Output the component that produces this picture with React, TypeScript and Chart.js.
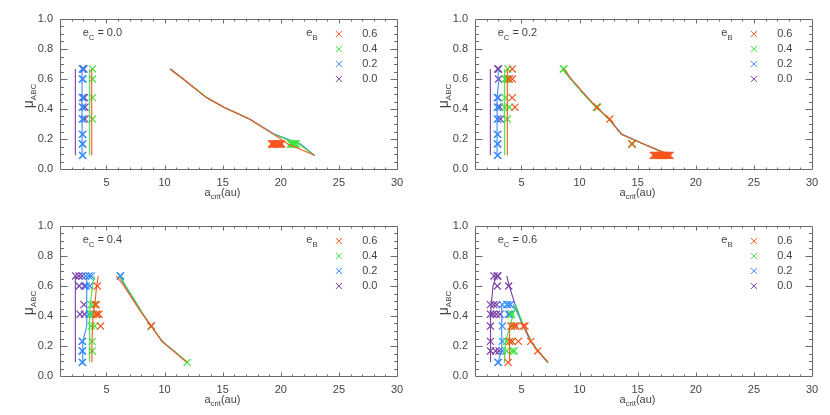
import React, { useEffect, useRef } from 'react';
import { Chart, registerables } from 'chart.js';

Chart.register(...registerables);

// ---- shared axis / label data ----
const MU = [0.091, 0.167, 0.231, 0.333, 0.412, 0.476, 0.6, 0.667];
const EC_LABELS = ['0.0', '0.2', '0.4', '0.6'];
const EB_LABELS = ['0.6', '0.4', '0.2', '0.0'];
const LEGEND_Y = [0.9, 0.8, 0.7, 0.6];
const LEGEND_X = 25;
const X_MIN = 1;
const X_MAX = 30;
const Y_MIN = 0;
const Y_MAX = 1;

// ---- e_C = 0.0 ----
const ec00LeftEb00 = [2.32, 2.32, 2.32, 2.32, 2.32, 2.32, 2.32, 2.32];
const ec00LeftEb02 = [2.9, 2.9, 2.9, 2.9, 2.9, 2.9, 2.9, 2.9];
const ec00LeftEb04 = [3.55, 3.55, 3.55, 3.55, 3.55, 3.55, 3.55, 3.55];
const ec00LeftEb06 = [3.73, 3.73, 3.73, 3.73, 3.73, 3.73, 3.73, 3.73];
const ec00RightEb00 = [22.9, 21.6, 19.4, 17.3, 15.1, 13.6, 11.6, 10.45];
const ec00RightEb02 = [22.9, 21.7, 19.5, 17.3, 15.1, 13.6, 11.6, 10.5];
const ec00RightEb04 = [22.9, 21.6, 19.4, 17.3, 15.1, 13.65, 11.6, 10.5];
const ec00RightEb06 = [22.9, 20.6, 19.4, 17.3, 15.1, 13.6, 11.6, 10.5];
const ec00MarksEb00: [number, number][] = [[2.98, 0.667], [3.05, 0.667], [3.02, 0.476], [3.1, 0.476], [3.15, 0.412], [3.15, 0.333]];
const ec00MarksEb02: [number, number][] = [
  [2.92, 0.667], [2.98, 0.667], [2.92, 0.6], [2.98, 0.6], [2.92, 0.476], [2.98, 0.476], [2.92, 0.412], [2.97, 0.412],
  [2.92, 0.333], [2.97, 0.333], [2.92, 0.231], [2.97, 0.231], [2.92, 0.167], [2.97, 0.167], [2.92, 0.091], [2.97, 0.091],
];
const ec00MarksEb04: [number, number][] = [
  [3.8, 0.667], [3.8, 0.6], [3.8, 0.476], [3.8, 0.333],
  [20.84, 0.167], [20.92, 0.167], [21.0, 0.167], [21.08, 0.167], [21.16, 0.167], [21.24, 0.167], [21.32, 0.167],
];
const ec00MarksEb06: [number, number][] = [
  [19.2, 0.167], [19.28, 0.167], [19.36, 0.167], [19.44, 0.167], [19.52, 0.167], [19.6, 0.167], [19.68, 0.167],
  [19.76, 0.167], [19.84, 0.167], [19.92, 0.167], [20.0, 0.167], [20.08, 0.167],
];

// ---- e_C = 0.2 ----
const ec02LeftEb00 = [2.32, 2.32, 2.32, 2.32, 2.32, 2.32, 2.32, 2.32];
const ec02LeftEb02 = [2.9, 2.9, 2.9, 2.9, 2.9, 2.9, 3.05, 3.0];
const ec02LeftEb04 = [3.55, 3.55, 3.55, 3.55, 3.55, 3.55, 3.55, 3.55];
const ec02LeftEb06 = [3.78, 3.78, 3.78, 3.78, 3.78, 3.78, 3.78, 3.78];
const ec02RightEb00 = [17.8, 15.5, 13.6, 12.55, 11.45, 10.65, 9.25, 8.55];
const ec02RightEb02 = [17.8, 15.5, 13.65, 12.55, 11.45, 10.65, 9.25, 8.55];
const ec02RightEb04 = [17.8, 15.5, 13.6, 12.5, 11.4, 10.6, 9.2, 8.5];
const ec02RightEb06 = [17.8, 15.5, 13.6, 12.55, 11.45, 10.7, 9.3, 8.65];
const ec02MarksEb00: [number, number][] = [[2.96, 0.667], [3.02, 0.667], [3.03, 0.6], [3.0, 0.476], [3.12, 0.412], [3.2, 0.333]];
const ec02MarksEb02: [number, number][] = [
  [2.92, 0.476], [2.97, 0.476], [2.92, 0.412], [2.97, 0.412], [2.92, 0.333], [2.97, 0.333],
  [2.92, 0.231], [2.97, 0.231], [2.92, 0.167], [2.97, 0.167], [2.92, 0.091], [2.97, 0.091],
];
const ec02MarksEb04: [number, number][] = [
  [3.83, 0.667], [3.6, 0.6], [3.75, 0.6], [3.85, 0.6], [3.6, 0.476], [3.55, 0.412], [3.95, 0.412], [3.78, 0.333],
  [8.6, 0.667], [8.65, 0.667], [11.45, 0.412], [11.55, 0.412], [14.5, 0.167], [14.55, 0.167],
];
const ec02MarksEb06: [number, number][] = [
  [4.21, 0.667], [3.95, 0.6], [4.21, 0.6], [4.21, 0.476], [4.44, 0.412], [11.5, 0.412], [12.6, 0.333], [14.5, 0.167],
  [16.34, 0.091], [16.42, 0.091], [16.5, 0.091], [16.58, 0.091], [16.66, 0.091], [16.74, 0.091], [16.82, 0.091],
  [16.9, 0.091], [16.98, 0.091], [17.06, 0.091], [17.14, 0.091], [17.22, 0.091], [17.3, 0.091], [17.38, 0.091],
  [17.46, 0.091], [17.54, 0.091], [17.62, 0.091], [17.7, 0.091], [17.78, 0.091],
];

// ---- e_C = 0.4 ----
const ec04LeftEb00 = [2.32, 2.32, 2.32, 2.32, 2.32, 2.32, 2.32, 2.32];
const ec04LeftEb02 = [2.95, 2.95, 2.97, 3.3, 3.3, 3.3, 3.3, 3.3];
const ec04LeftEb04 = [3.55, 3.55, 3.55, 3.55, 3.55, 3.6, 3.8, 3.95];
const ec04LeftEb06 = [3.75, 3.75, 3.75, 3.8, 3.85, 4.0, 4.15, 4.3];
const ec04RightEb00 = [11.95, 10.78, 9.78, 8.85, 8.12, 7.6, 6.6, 6.1];
const ec04RightEb02 = [11.95, 10.8, 9.8, 8.85, 8.15, 7.65, 6.65, 6.2];
const ec04RightEb04 = [12.0, 10.8, 9.8, 8.85, 8.15, 7.65, 6.65, 6.15];
const ec04RightEb06 = [11.9, 10.75, 9.77, 8.85, 8.1, 7.55, 6.5, 5.85];
const ec04MarksEb00: [number, number][] = [
  [2.34, 0.667], [2.63, 0.667], [2.9, 0.667], [2.65, 0.6], [3.1, 0.6], [3.06, 0.476], [2.72, 0.412], [3.1, 0.412], [8.85, 0.333],
];
const ec04MarksEb02: [number, number][] = [
  [3.2, 0.667], [3.49, 0.667], [3.69, 0.667], [3.25, 0.6], [3.55, 0.6], [3.5, 0.412],
  [2.9, 0.231], [2.95, 0.231], [2.9, 0.167], [2.95, 0.167], [2.9, 0.091], [2.95, 0.091], [6.17, 0.667], [6.22, 0.667],
];
const ec04MarksEb04: [number, number][] = [
  [3.69, 0.476], [3.9, 0.476], [3.69, 0.412], [3.85, 0.412], [3.69, 0.333], [3.98, 0.333], [3.78, 0.231], [3.78, 0.167],
  [8.85, 0.333], [11.95, 0.091],
];
const ec04MarksEb06: [number, number][] = [
  [4.21, 0.6], [4.04, 0.476], [4.12, 0.476], [4.1, 0.412], [4.2, 0.412], [4.35, 0.412], [4.49, 0.333], [8.85, 0.333],
];

// ---- e_C = 0.6 ----
const ec06LeftEb00 = [2.34, 2.34, 2.34, 2.34, 2.34, 2.4, 2.55, 2.85];
const ec06LeftEb02 = [3.0, 3.25, 3.3, 3.3, 3.3, 3.3, null, null];
const ec06LeftEb04 = [3.5, 3.55, 3.65, 4.0, 4.3, 4.5, null, null];
const ec06LeftEb06 = [3.98, 3.98, 3.98, 3.98, null, null, null, null];
const ec06RightEb00 = [7.27, 6.4, 5.8, 5.15, 4.75, 4.45, 3.95, 3.73];
const ec06RightEb02 = [7.25, 6.4, 5.8, 5.15, 4.7, 4.3, null, null];
const ec06RightEb04 = [7.3, 6.45, 5.85, 5.2, 4.8, 4.5, null, null];
const ec06RightEb06 = [7.3, 6.4, 5.8, 5.25, null, null, null, null];
const ec06MarksEb00: [number, number][] = [
  [2.64, 0.667], [2.9, 0.667], [2.97, 0.667], [2.92, 0.6], [3.9, 0.6],
  [2.33, 0.476], [2.62, 0.476], [2.87, 0.476], [2.33, 0.412], [2.56, 0.412], [2.84, 0.412], [3.15, 0.412],
  [2.33, 0.333], [2.33, 0.231], [2.33, 0.167], [2.78, 0.167], [3.07, 0.167],
];
const ec06MarksEb02: [number, number][] = [
  [3.35, 0.476], [3.73, 0.476], [3.8, 0.476], [4.01, 0.476], [4.05, 0.476], [3.87, 0.412], [4.0, 0.412],
  [3.35, 0.333], [3.35, 0.231], [3.35, 0.167], [2.97, 0.091], [3.02, 0.091],
];
const ec06MarksEb04: [number, number][] = [
  [4.1, 0.412], [4.15, 0.412], [4.15, 0.333], [4.4, 0.333], [3.73, 0.231], [4.15, 0.231], [3.73, 0.167], [4.2, 0.167], [4.38, 0.167],
];
const ec06MarksEb06: [number, number][] = [
  [4.1, 0.333], [4.35, 0.333], [4.55, 0.333], [5.16, 0.333], [5.3, 0.333], [3.98, 0.231], [4.2, 0.231], [4.73, 0.231],
  [5.8, 0.231], [6.4, 0.167], [3.85, 0.091],
];

// ---- styles ----
const COLOR_BY_EB: Record<string, string> = {
  '0.6': '#fa5520',
  '0.4': '#3fe63f',
  '0.2': '#3a8cff',
  '0.0': '#7a3fa6',
};
const AXIS_COLOR = '#6a6a6a';
const TEXT_COLOR = '#444444';
const FONT_FAMILY = '"Liberation Sans", Arial, sans-serif';
const BASE_FONT = 11;

type Series = { left: (number | null)[]; right: (number | null)[]; marks: [number, number][] };

const PANELS: { ec: string; series: Record<string, Series> }[] = [
  {
    ec: EC_LABELS[0],
    series: {
      '0.6': { left: ec00LeftEb06, right: ec00RightEb06, marks: ec00MarksEb06 },
      '0.4': { left: ec00LeftEb04, right: ec00RightEb04, marks: ec00MarksEb04 },
      '0.2': { left: ec00LeftEb02, right: ec00RightEb02, marks: ec00MarksEb02 },
      '0.0': { left: ec00LeftEb00, right: ec00RightEb00, marks: ec00MarksEb00 },
    },
  },
  {
    ec: EC_LABELS[1],
    series: {
      '0.6': { left: ec02LeftEb06, right: ec02RightEb06, marks: ec02MarksEb06 },
      '0.4': { left: ec02LeftEb04, right: ec02RightEb04, marks: ec02MarksEb04 },
      '0.2': { left: ec02LeftEb02, right: ec02RightEb02, marks: ec02MarksEb02 },
      '0.0': { left: ec02LeftEb00, right: ec02RightEb00, marks: ec02MarksEb00 },
    },
  },
  {
    ec: EC_LABELS[2],
    series: {
      '0.6': { left: ec04LeftEb06, right: ec04RightEb06, marks: ec04MarksEb06 },
      '0.4': { left: ec04LeftEb04, right: ec04RightEb04, marks: ec04MarksEb04 },
      '0.2': { left: ec04LeftEb02, right: ec04RightEb02, marks: ec04MarksEb02 },
      '0.0': { left: ec04LeftEb00, right: ec04RightEb00, marks: ec04MarksEb00 },
    },
  },
  {
    ec: EC_LABELS[3],
    series: {
      '0.6': { left: ec06LeftEb06, right: ec06RightEb06, marks: ec06MarksEb06 },
      '0.4': { left: ec06LeftEb04, right: ec06RightEb04, marks: ec06MarksEb04 },
      '0.2': { left: ec06LeftEb02, right: ec06RightEb02, marks: ec06MarksEb02 },
      '0.0': { left: ec06LeftEb00, right: ec06RightEb00, marks: ec06MarksEb00 },
    },
  },
];

function linePoints(xs: (number | null)[]) {
  const pts: { x: number; y: number }[] = [];
  xs.forEach((x, i) => {
    if (x !== null) pts.push({ x, y: MU[i] });
  });
  return pts;
}

function buildDatasets(p: { ec: string; series: Record<string, Series> }) {
  const ds: any[] = [];
  // first dataset is drawn on top in Chart.js
  EB_LABELS.forEach((eb) => {
    const s = p.series[eb];
    const color = COLOR_BY_EB[eb];
    ds.push({
      data: s.marks.map(([x, y]) => ({ x, y })),
      showLine: false,
      pointStyle: 'crossRot',
      pointRadius: 5,
      pointBorderWidth: 1.2,
      pointBorderColor: color,
      pointBackgroundColor: color,
    });
    ds.push({
      data: linePoints(s.right),
      showLine: true,
      borderColor: color,
      borderWidth: 1.1,
      pointRadius: 0,
      tension: 0,
      fill: false,
    });
    ds.push({
      data: linePoints(s.left),
      showLine: true,
      borderColor: color,
      borderWidth: 1.1,
      pointRadius: 0,
      tension: 0,
      fill: false,
    });
  });
  // legend markers
  EB_LABELS.forEach((eb, i) => {
    ds.push({
      data: [{ x: LEGEND_X, y: LEGEND_Y[i] }],
      showLine: false,
      pointStyle: 'crossRot',
      pointRadius: 4.2,
      pointBorderWidth: 1,
      pointBorderColor: COLOR_BY_EB[eb],
    });
  });
  return ds;
}

type Part = { t: string; sub?: boolean; size?: number };

function drawSub(ctx: CanvasRenderingContext2D, parts: Part[], x: number, y: number, base: number) {
  let cx = x;
  parts.forEach((p) => {
    const size = p.size ?? (p.sub ? base * 0.7 : base);
    ctx.font = `${size}px ${FONT_FAMILY}`;
    ctx.fillText(p.t, cx, p.sub ? y + base * 0.3 : y);
    cx += ctx.measureText(p.t).width;
  });
  return cx - x;
}

function measureSub(ctx: CanvasRenderingContext2D, parts: Part[], base: number) {
  let w = 0;
  parts.forEach((p) => {
    const size = p.size ?? (p.sub ? base * 0.7 : base);
    ctx.font = `${size}px ${FONT_FAMILY}`;
    w += ctx.measureText(p.t).width;
  });
  return w;
}

const idlFrame = {
  id: 'idlFrame',
  afterDraw(chart: any) {
    const { ctx, chartArea: a, scales } = chart;
    const xs = scales.x;
    const ys = scales.y;
    const ec = chart.options.plugins.idlFrame.ec as string;
    ctx.save();
    ctx.strokeStyle = AXIS_COLOR;
    ctx.lineWidth = 1;
    const L = Math.round(a.left) + 0.5;
    const R = Math.round(a.right) + 0.5;
    const T = Math.round(a.top) + 0.5;
    const B = Math.round(a.bottom) + 0.5;
    ctx.beginPath();
    ctx.rect(L, T, R - L, B - T);
    // x ticks (inward, top & bottom)
    for (let v = X_MIN + 1; v < X_MAX; v++) {
      const px = Math.round(xs.getPixelForValue(v)) + 0.5;
      const len = v % 5 === 0 ? 4 : 2;
      ctx.moveTo(px, B);
      ctx.lineTo(px, B - len);
      ctx.moveTo(px, T);
      ctx.lineTo(px, T + len);
    }
    // y ticks (inward, left & right)
    for (let i = 1; i < 20; i++) {
      const py = Math.round(ys.getPixelForValue(i * 0.05)) + 0.5;
      const len = i % 4 === 0 ? 7 : 3.5;
      ctx.moveTo(L, py);
      ctx.lineTo(L + len, py);
      ctx.moveTo(R, py);
      ctx.lineTo(R - len, py);
    }
    ctx.stroke();

    ctx.fillStyle = TEXT_COLOR;
    ctx.textBaseline = 'alphabetic';
    ctx.textAlign = 'left';
    const base = BASE_FONT;
    // panel label e_C = ...
    drawSub(ctx, [{ t: 'e' }, { t: 'C', sub: true }, { t: ' = ' }, { t: ec }], xs.getPixelForValue(2.95), ys.getPixelForValue(0.885), base);
    // legend title e_B
    drawSub(ctx, [{ t: 'e' }, { t: 'B', sub: true }], xs.getPixelForValue(22.2), ys.getPixelForValue(0.885), base);
    // legend labels
    ctx.textBaseline = 'middle';
    ctx.font = `${base}px ${FONT_FAMILY}`;
    EB_LABELS.forEach((eb, i) => {
      ctx.fillText(eb, xs.getPixelForValue(27), ys.getPixelForValue(LEGEND_Y[i]));
    });
    ctx.textBaseline = 'alphabetic';
    // x title
    const xParts: Part[] = [{ t: 'a' }, { t: 'crit', sub: true }, { t: '(au)' }];
    const xw = measureSub(ctx, xParts, base);
    drawSub(ctx, xParts, (a.left + a.right) / 2 - 6 - xw / 2, a.bottom + 27, base);
    // y title (rotated)
    ctx.translate(a.left - 27, (a.top + a.bottom) / 2 + 2);
    ctx.rotate(-Math.PI / 2);
    const yParts: Part[] = [{ t: 'μ', size: 14 }, { t: 'ABC', sub: true, size: 8 }];
    const yw = measureSub(ctx, yParts, 11);
    drawSub(ctx, yParts, -yw / 2, 0, 11);
    ctx.restore();
  },
};

function Panel({ index, left, top, height }: { index: number; left: number; top: number; height: number }) {
  const ref = useRef<HTMLCanvasElement>(null);
  useEffect(() => {
    const p = PANELS[index];
    const xAxisHeight = height - 19 - 150;
    const chart = new Chart(ref.current as HTMLCanvasElement, {
      type: 'scatter',
      data: { datasets: buildDatasets(p) },
      options: {
        animation: false,
        responsive: false,
        devicePixelRatio: 1,
        layout: { padding: { left: 0, right: 18, top: 19, bottom: 0 } },
        plugins: {
          legend: { display: false },
          tooltip: { enabled: false },
          idlFrame: { ec: p.ec },
        } as any,
        scales: {
          x: {
            type: 'linear',
            min: X_MIN,
            max: X_MAX,
            afterFit: (s: any) => {
              s.height = xAxisHeight;
            },
            grid: { display: false, drawTicks: false },
            border: { display: false },
            ticks: {
              stepSize: 5,
              includeBounds: false,
              autoSkip: false,
              maxRotation: 0,
              padding: 7,
              color: TEXT_COLOR,
              font: { family: FONT_FAMILY, size: BASE_FONT },
            },
          },
          y: {
            type: 'linear',
            min: Y_MIN,
            max: Y_MAX,
            afterFit: (s: any) => {
              s.width = 60;
            },
            grid: { display: false, drawTicks: false },
            border: { display: false },
            ticks: {
              stepSize: 0.2,
              autoSkip: false,
              padding: 7,
              color: TEXT_COLOR,
              font: { family: FONT_FAMILY, size: BASE_FONT },
              callback: (v: any) => Number(v).toFixed(1),
            },
          },
        },
      } as any,
      plugins: [idlFrame],
    });
    return () => chart.destroy();
  }, [index, height]);
  return (
    <canvas
      ref={ref}
      width={415}
      height={height}
      style={{ position: 'absolute', left, top, width: 415, height, display: 'block' }}
    />
  );
}

export default function App() {
  return (
    <div style={{ position: 'absolute', left: 0, top: 0, width: 830, height: 415, background: '#ffffff' }}>
      <Panel index={0} left={0} top={0} height={207} />
      <Panel index={1} left={415} top={0} height={207} />
      <Panel index={2} left={0} top={207} height={208} />
      <Panel index={3} left={415} top={207} height={208} />
    </div>
  );
}
